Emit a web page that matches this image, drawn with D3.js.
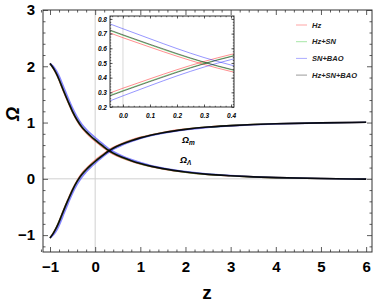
<!DOCTYPE html>
<html>
<head>
<meta charset="utf-8">
<script src="https://cdn.jsdelivr.net/npm/d3@7"></script>
<style>
  body { margin: 0; background: #fff; }
  svg { display: block; font-family: "Liberation Sans", Arial, sans-serif; }
</style>
</head>
<body>
<div id="chart"></div>
<script>
// redshift grid shared by all curves
var zs = [-1, -0.95, -0.9, -0.85, -0.8, -0.75, -0.7, -0.6, -0.5, -0.4, -0.3, -0.2, -0.1, 0, 0.1, 0.2, 0.3, 0.4, 0.6, 0.8, 1, 1.25, 1.5, 2, 2.5, 3, 3.5, 4, 5, 6];

// Omega_m and Omega_Lambda, per data set
var omHz = [-1.05, -0.992, -0.925, -0.848, -0.757, -0.655, -0.554, -0.363, -0.182, -0.031, 0.09, 0.18, 0.259, 0.328, 0.392, 0.454, 0.51, 0.558, 0.63, 0.688, 0.737, 0.785, 0.824, 0.883, 0.922, 0.946, 0.965, 0.978, 0.995, 1.005];
var olHz = [2.05, 1.992, 1.925, 1.848, 1.757, 1.655, 1.554, 1.363, 1.182, 1.031, 0.91, 0.82, 0.741, 0.672, 0.608, 0.546, 0.49, 0.442, 0.37, 0.312, 0.263, 0.215, 0.176, 0.117, 0.078, 0.054, 0.035, 0.022, 0.005, -0.005];

var omHzSN = [-1.05, -0.995, -0.93, -0.855, -0.765, -0.665, -0.565, -0.375, -0.195, -0.045, 0.075, 0.165, 0.243, 0.312, 0.377, 0.44, 0.497, 0.546, 0.62, 0.68, 0.73, 0.78, 0.82, 0.88, 0.92, 0.945, 0.965, 0.978, 0.995, 1.005];
var olHzSN = [2.05, 1.995, 1.93, 1.855, 1.765, 1.665, 1.565, 1.375, 1.195, 1.045, 0.925, 0.835, 0.757, 0.688, 0.623, 0.56, 0.503, 0.454, 0.38, 0.32, 0.27, 0.22, 0.18, 0.12, 0.08, 0.055, 0.035, 0.022, 0.005, -0.005];

var omSNBAO = [-1.05, -1.015, -0.97, -0.91, -0.83, -0.735, -0.635, -0.44, -0.255, -0.1, 0.025, 0.12, 0.203, 0.276, 0.345, 0.412, 0.472, 0.523, 0.6, 0.663, 0.716, 0.769, 0.81, 0.872, 0.914, 0.941, 0.962, 0.976, 0.994, 1.005];
var olSNBAO = [2.05, 2.015, 1.97, 1.91, 1.83, 1.735, 1.635, 1.44, 1.255, 1.1, 0.975, 0.882, 0.803, 0.733, 0.665, 0.598, 0.537, 0.486, 0.406, 0.342, 0.288, 0.234, 0.192, 0.129, 0.086, 0.059, 0.038, 0.024, 0.006, -0.005];

var omAll = [-1.05, -0.995, -0.93, -0.855, -0.765, -0.665, -0.565, -0.375, -0.195, -0.045, 0.073, 0.162, 0.239, 0.308, 0.373, 0.436, 0.494, 0.543, 0.618, 0.678, 0.728, 0.779, 0.819, 0.879, 0.92, 0.945, 0.965, 0.978, 0.995, 1.005];
var olAll = [2.05, 1.995, 1.93, 1.855, 1.765, 1.665, 1.565, 1.375, 1.195, 1.045, 0.927, 0.838, 0.761, 0.692, 0.627, 0.564, 0.506, 0.457, 0.382, 0.322, 0.272, 0.221, 0.181, 0.121, 0.08, 0.055, 0.035, 0.022, 0.005, -0.005];

var seriesNames = ["Hz", "Hz+SN", "SN+BAO", "Hz+SN+BAO"];
var seriesColors = ["#ff2020", "#20c020", "#3030ff", "#000000"];

var xTicks = [-1, 0, 1, 2, 3, 4, 5, 6];
var yTicks = [-1, 0, 1, 2, 3];
var insetXTicks = [0, 0.1, 0.2, 0.3, 0.4];
var insetYTicks = [0.2, 0.3, 0.4, 0.5, 0.6, 0.7, 0.8];

var series = [
  { name: seriesNames[0], color: seriesColors[0], om: omHz, ol: olHz },
  { name: seriesNames[1], color: seriesColors[1], om: omHzSN, ol: olHzSN },
  { name: seriesNames[2], color: seriesColors[2], om: omSNBAO, ol: olSNBAO },
  { name: seriesNames[3], color: seriesColors[3], om: omAll, ol: olAll }
];

var width = 374, height = 305;
var svg = d3.select("#chart").append("svg")
  .attr("width", width)
  .attr("height", height);

var x = d3.scaleLinear().domain([-1.155, 6.13]).range([43, 372]);
var y = d3.scaleLinear().domain([-1.3, 3]).range([252, 10]);

var defs = svg.append("defs");
defs.append("clipPath").attr("id", "clipMain")
  .append("rect").attr("x", 43).attr("y", 10).attr("width", 329).attr("height", 242);

// grid lines through the origin
svg.append("line").attr("x1", x(0)).attr("x2", x(0)).attr("y1", 10).attr("y2", 252)
  .attr("stroke", "#d0d0d0").attr("stroke-width", 1);
svg.append("line").attr("x1", 43).attr("x2", 372).attr("y1", y(0)).attr("y2", y(0))
  .attr("stroke", "#d0d0d0").attr("stroke-width", 1);

function drawCurves(g, xs, ys, sw, op, opBlack) {
  var line = d3.line()
    .x(function(d) { return xs(d[0]); })
    .y(function(d) { return ys(d[1]); })
    .curve(d3.curveMonotoneX);
  series.forEach(function(s, k) {
    [s.om, s.ol].forEach(function(vals) {
      g.append("path")
        .datum(zs.map(function(z, i) { return [z, vals[i]]; }))
        .attr("d", line)
        .attr("fill", "none")
        .attr("stroke", s.color)
        .attr("stroke-opacity", k == 3 ? opBlack : op)
        .attr("stroke-width", sw);
    });
  });
}

var gMain = svg.append("g").attr("clip-path", "url(#clipMain)");
drawCurves(gMain, x, y, 1.6, 0.6, 0.9);

// frame with inward ticks on all four sides
function frameAxes(xs, ys, xMaj, yMaj, xMin, yMin, big, small, fmtX, fmtY, fontSize, cls) {
  var x0 = xs.range()[0], x1 = xs.range()[1], y0 = ys.range()[0], y1 = ys.range()[1];
  var g = svg.append("g").attr("class", cls);
  g.append("g").attr("transform", "translate(0," + y0 + ")")
    .call(d3.axisBottom(xs).tickValues(xMin).tickSize(-small).tickFormat(""));
  g.append("g").attr("transform", "translate(0," + y0 + ")")
    .call(d3.axisBottom(xs).tickValues(xMaj).tickSize(-big).tickPadding(big + 4).tickFormat(fmtX))
    .attr("class", cls + "-xlab");
  g.append("g").attr("transform", "translate(0," + y1 + ")")
    .call(d3.axisTop(xs).tickValues(xMin).tickSize(-small).tickFormat(""));
  g.append("g").attr("transform", "translate(0," + y1 + ")")
    .call(d3.axisTop(xs).tickValues(xMaj).tickSize(-big).tickFormat(""));
  g.append("g").attr("transform", "translate(" + x0 + ",0)")
    .call(d3.axisLeft(ys).tickValues(yMin).tickSize(-small).tickFormat(""));
  g.append("g").attr("transform", "translate(" + x0 + ",0)")
    .call(d3.axisLeft(ys).tickValues(yMaj).tickSize(-big).tickPadding(big + 3).tickFormat(fmtY))
    .attr("class", cls + "-ylab");
  g.append("g").attr("transform", "translate(" + x1 + ",0)")
    .call(d3.axisRight(ys).tickValues(yMin).tickSize(-small).tickFormat(""));
  g.append("g").attr("transform", "translate(" + x1 + ",0)")
    .call(d3.axisRight(ys).tickValues(yMaj).tickSize(-big).tickFormat(""));
  g.selectAll(".domain").remove();
  g.selectAll(".tick line").attr("stroke", "#333").attr("stroke-width", 0.8);
  g.selectAll("text").attr("fill", "#000").style("font-size", fontSize + "px");
  g.append("rect").attr("x", x0).attr("y", y1).attr("width", x1 - x0).attr("height", y0 - y1)
    .attr("fill", "none").attr("stroke", "#333").attr("stroke-width", 1);
  return g;
}

var mainAx = frameAxes(x, y, xTicks, yTicks,
  d3.range(-1.2, 6.15, 0.2).filter(function(v) { return Math.abs(v - Math.round(v)) > 1e-6; }),
  d3.range(-1.2, 3.01, 0.2).filter(function(v) { return Math.abs(v - Math.round(v)) > 1e-6; }),
  5, 2.5, d3.format("d"), d3.format("d"), 15, "main");
mainAx.selectAll("text").style("font-weight", "bold");

// axis titles
svg.append("text").attr("x", 207).attr("y", 299)
  .attr("text-anchor", "middle").style("font-size", "19px").style("font-weight", "bold")
  .text("z");
svg.append("text").attr("transform", "translate(19,114) rotate(-90)")
  .attr("text-anchor", "middle").style("font-size", "18px").style("font-weight", "bold")
  .style("font-style", "italic").text("Ω");

// curve labels
function omegaLabel(px, py, sub) {
  var t = svg.append("text").attr("x", px).attr("y", py)
    .style("font-size", "9px").style("font-weight", "bold").style("font-style", "italic");
  t.append("tspan").text("Ω");
  t.append("tspan").attr("dy", 2).style("font-size", "6.5px").text(sub);
}
omegaLabel(182, 143, "m");
omegaLabel(180, 163, "Λ");

// inset
var xi = d3.scaleLinear().domain([-0.048, 0.411]).range([110, 234]);
var yi = d3.scaleLinear().domain([0.2, 0.82]).range([107, 16]);
svg.append("rect").attr("x", 110).attr("y", 16).attr("width", 124).attr("height", 91).attr("fill", "#fff");
defs.append("clipPath").attr("id", "clipInset")
  .append("rect").attr("x", 110).attr("y", 16).attr("width", 124).attr("height", 91);
svg.append("line").attr("x1", xi(0)).attr("x2", xi(0)).attr("y1", 16).attr("y2", 107)
  .attr("stroke", "#d8d8d8").attr("stroke-width", 1);
var gInset = svg.append("g").attr("clip-path", "url(#clipInset)");
drawCurves(gInset, xi, yi, 1, 0.5, 0.5);

var insetAx = frameAxes(xi, yi, insetXTicks, insetYTicks,
  d3.range(-0.04, 0.41, 0.02), d3.range(0.2, 0.821, 0.02),
  2.5, 1.2, d3.format(".1f"), d3.format(".1f"), 6.5, "inset");
insetAx.selectAll("text").style("font-weight", "bold").style("font-style", "italic");
insetAx.select(".inset-xlab").selectAll("text").attr("y", 6);
insetAx.select(".inset-ylab").selectAll("text").attr("x", -3);

// legend
var legend = svg.append("g").attr("transform", "translate(296,25)");
series.forEach(function(s, i) {
  var row = legend.append("g").attr("transform", "translate(0," + (i * 16.7) + ")");
  row.append("line").attr("x1", 0).attr("x2", 11).attr("y1", 0).attr("y2", 0)
    .attr("stroke", s.color).attr("stroke-opacity", 0.4).attr("stroke-width", 1);
  row.append("text").attr("x", 16).attr("y", 2.5)
    .style("font-size", "7.5px").style("font-weight", "bold").style("font-style", "italic")
    .attr("fill", "#222").text(s.name);
});
</script>
</body>
</html>
